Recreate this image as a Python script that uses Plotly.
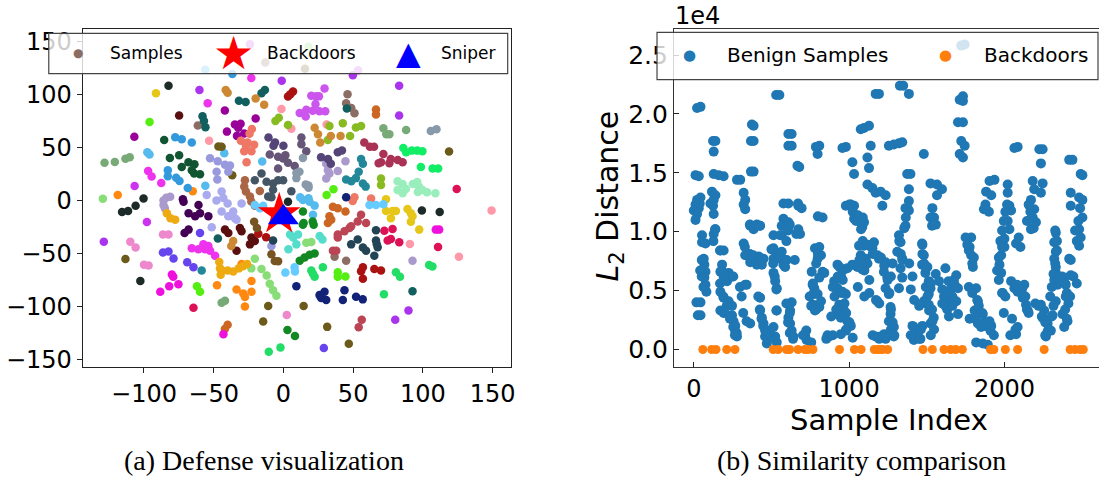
import plotly.graph_objects as go

# ---------------- (a) t-SNE embedding: one colour per cluster ----------------
cluster_colors = [
    "#8c6d64", "#1c2b28", "#e6c619", "#55ee11", "#5a1010", "#aa33ee", "#ee33ee", "#990099",
    "#77aa77", "#55bbee", "#cc33ee", "#ff8811", "#88dd77", "#115533", "#3399dd", "#115f5f",
    "#ff99aa", "#6b5a1a", "#9999dd", "#aaaaee", "#aa99cc", "#440055", "#ee7766", "#aa6644",
    "#445566", "#554477", "#665577", "#88bb22", "#aa1111", "#cc8833", "#cc55ee", "#cc6622",
    "#8899aa", "#aa3355", "#11ee66", "#228899", "#99eebb", "#dd1155", "#112277", "#ee11dd",
    "#6644ee", "#ee88cc", "#eeaa11", "#bb4455", "#224455", "#55ddcc", "#118822", "#22dd66",
    "#66ccff", "#775522",
]

tsne_clusters = [
    [(-61.4, 70.6), (46, 100), (45, 91.6), (48.7, 87), (51, 82), (36.7, -53), (45, -56.8), (-13, 130)],
    [(-82.4, 108), (-100.3, 1.8), (-115.7, -11), (-111.4, -10), (-106, -5), (-102.6, -75.9), (99.3, -9.6), (112.1, -11), (3.3, -1.2)],
    [(-91.4, 101), (73.6, -9.9), (78.3, -9.9), (80.7, -9.9), (89, -8), (91.4, -12), (92.6, -15), (91.4, -20), (77.1, -16.7), (97.4, -27.5), (73.6, 1)],
    [(-96, 73.8), (-62, -80.9), (-59.8, -86), (39, -67.6), (39, -72), (44.5, -71.6), (35.9, 10.5), (31, 5)],
    [(-74.8, 80), (-41.9, -27.5), (-39.5, -30.6), (-31.2, -26), (-30, -29), (-22.9, -35), (-24, -41.4), (-20.5, -38.3), (-33.6, -47.5)],
    [(-60.2, 104), (-128.8, -38.9), (83, 108), (83, 80), (49.8, 118), (80.2, -112.3), (89.7, -103.7), (-1.2, 112.7)],
    [(-54.3, 91.6), (-23, 115.4), (-97, 27.8), (-94.5, 22.5), (-87.6, 16.3), (-65.7, -45), (-61, -46), (-57.4, -41.4), (-56.2, -46), (-52.6, -47.5), (-53.8, -43), (-49, -52)],
    [(-106.9, 59.9), (-42, 84.6), (-34.8, 71.6), (-30.7, 72.2), (-32.4, 68.5), (-19.9, 77.2), (-40.5, 64.8), (-33.3, 60.8), (-28.1, 63)],
    [(-128.3, 35.5), (-120.9, 36.3), (-113.3, 39.2), (-110.2, 40.7), (71.7, 67.9), (73.8, 62.3), (76, 62.3), (88, 66.4), (-44.3, -96.3), (-41.9, -94.4)],
    [(-97.6, 45.4), (-96, 43.2), (-56, 13.8), (14, 0.3), (18.8, -1.2), (22.4, -4.9), (21.2, -13.6), (-42.4, 44.4), (-15.2, 36.7), (12, 3), (18, 2), (-56, 123)],
    [(-106.7, 13.5), (-97.9, -20.4)],
    [(-118.8, 5.2), (-65, 8.6), (-30, -60), (-22.9, -76), (-22.9, -86), (-33.6, -84), (-28.8, -87.6), (-27.6, -91), (-27.6, -100), (-47.6, -80)],
    [(-129.5, 1.5), (-20.5, -55), (-15.7, -64.5), (-12, -70.7), (-9.8, -78.4), (-7.4, -84.6), (-5, -89.8), (-23, -64), (16.4, -39.8), (20, -39.2), (18, 145)],
    [(-85.5, 57), (-81.4, 40), (-74.8, 42.6), (-72.9, 31.5), (-68.1, 36), (-63.8, 34), (-64, 25.3), (-59.8, 24.7), (-65.7, 28.4)],
    [(-77.6, 59.5), (-72.9, 57.6), (-65.7, 54.6), (-82.9, 28.4), (-82.9, 22.8), (-76.9, 21.3), (-74.5, 18.2), (-68.6, 11.7), (-36.6, 119)],
    [(-58, 79.3), (-57, 74.7), (-55.9, 69), (-31.9, 93.8), (-27.1, 92.6), (-15.7, 100.9), (-13.3, 104), (45.5, 86.5), (-47, -35.8), (92.6, -85.5)],
    [(-53.3, 56.2), (-1.4, 86), (5.7, 67.6), (90.7, -41), (125.9, -53), (149.3, -9.6), (31, 71.5)],
    [(-46.6, 50.9), (-44.3, 50.5), (-36.7, 23.7), (118.8, 46), (-113.3, -55.2), (14.5, -99.4), (31.4, -119.1), (46.9, -134.9), (-10.9, -99.4), (-14.5, -114), (15.5, 124)],
    [(-52.6, 39.8), (-47.1, 37), (-41.9, 33.7), (-38.3, 33), (-39.5, 26.9), (-47.9, 26.9), (-47.4, 19.8), (-8.6, -42.9)],
    [(-55, 5.2), (-44.3, 8.3), (-43.1, 2.2), (-51.4, -25.3), (-44.3, -10.5), (-39.5, -15), (-34.8, -16.7), (-33.6, -18.2), (-30, -3), (-36, -10.5), (-48, 0), (-40, -3)],
    [(-84, 2.5), (-81.2, 3.4), (-86, 0), (-86, -4.3), (-85, -7.4), (30.7, 34.6), (31.9, 28.4), (33, 25.3), (39, 27.8), (30.7, 20.7), (44.5, 37), (92.6, -56.8)],
    [(-72.1, 1), (-71.6, -1.2), (-60.9, -4.3), (-68, -12), (-63.3, -15), (-59.8, -12), (-53.8, -15), (-68, -27.5), (-70.9, -30.6)],
    [(-22.6, 67.3), (-24.3, 62.7), (-30.5, 56.2), (-26.9, 51.6), (-28.1, 46.3), (-22.9, 46.3), (-21, 52.5), (-25.7, 54.6), (-26.4, 36), (49.7, -0.6), (62.9, 1.8), (51, 3)],
    [(-27.6, 19.1), (-28.1, 13), (-26.9, 8.3), (-24, 3.7), (-23, -1), (-20.5, -5), (-16.9, 8.9)],
    [(-20.5, 19.1), (-15.7, 25.3), (-12.1, 17.6), (-7.4, 16), (-3.8, 19.1), (-0.2, 19.1), (-7.4, 10), (-10.9, 3.7), (5.7, 8.6), (-8.6, 3.1)],
    [(-10.7, 59.3), (-6, 54.6), (0, 51.5), (-7.1, 51.5), (27, 40.7), (32, 39), (34, 34.6), (39, 45.4), (42, 47)],
    [(-9.8, 43.2), (-3.8, 41.1), (-0.2, 39.5), (3.3, 35.5), (8.1, 32.4), (1.4, 42.5), (-3.8, 30), (12.9, 59.3), (12.9, 53), (16.4, 46.3)],
    [(-5.7, 74.7), (-3.3, 77.8), (3.3, 71), (42.6, 72.6), (52, 68.6), (55.7, 70), (47.8, 60.7), (31.9, 57), (33, 70), (70, 20.7), (70, 14.5)],
    [(3.3, 97.8), (6.9, 102.5), (5, 100), (-18, -31.5), (-12.4, -34.6), (57, -63), (55.7, -66.7), (57, -73.8), (65.2, -64.5), (70, -66)],
    [(-41.4, 104), (-40, 101.5), (-19.9, 96), (-13.8, 90), (22.4, 68.5), (24.8, 62.3), (26.4, 54.5), (34, 60.7), (41, 60.7), (-36, -38.3), (-37.4, -43)],
    [(29.5, 105.5), (20, 98.7), (23.6, 98), (25.5, 98), (23, 90.7), (11.7, 82.4), (16.4, 85.5), (21, 84.5), (25.8, 84), (30, 84), (16, 79), (-24, 147), (53.6, 122.5)],
    [(66.4, 85.6), (66.4, 81), (35.5, -5.9), (39, -7.4), (33, -15), (31.9, -21.3), (34.3, -18.2), (44.5, -10.5), (-40, -117), (-42, -121)],
    [(105.7, 65.4), (109.8, 67), (14, 40), (16, 15), (18, 14), (18, 12), (11.5, 27), (9.3, 21), (9.3, 25.9)],
    [(58, 54.6), (62, 50.6), (65, 50.6), (71.7, 43.8), (70, 36), (68.3, 35), (77, 39), (76, 35), (82, 38), (85.5, 36)],
    [(86, 49.4), (88, 45.4), (92, 46.9), (96, 46.9), (99.7, 46.3), (98.6, 31.5), (107, 30), (111, 30)],
    [(55.7, 39), (57, 34.6), (45, 19.8), (48.7, 18), (52, 21), (54, 27), (57, 16), (59, 13), (-58.6, -66)],
    [(81.9, 18), (85.5, 15.4), (87.9, 10.8), (81.9, 9.9), (85.5, 6.8), (96, 17.4), (97.3, 12.8), (99.7, 9.9), (103, 7.7), (109, 6.8), (92.8, 15.4), (96.4, 8)],
    [(124.3, 10.8), (72.4, -28.6), (74.8, -37.7), (78.3, -27), (83.1, -39.5), (77.1, -36.4), (110.9, -43.8), (-64.5, -101)],
    [(9.3, -80.9), (25.9, -89.2), (29.5, -86.1), (30.7, -93.8), (43.8, -84.6), (42.6, -93.8), (52.1, -90.7), (56.9, -93.2), (27.1, -92), (45, 3)],
    [(109.3, -27.5), (111.7, -27.5), (-88.3, -86), (-81.9, -80.9), (-75.3, -79), (-80, -69.8), (-79, -72), (-43, -126)],
    [(-86.4, -49), (-82.4, -48), (-78.8, -54.6), (-69, -58.3), (-64.5, -63), (-59.8, -30.6), (29, -138.9)],
    [(-109.8, -38.9), (-106, -44.4), (-100, -60.5), (-96.7, -61.4), (-86.4, -32), (-82.4, -32), (2.4, -108)],
    [(-81, -16.7), (-77.6, -18.2), (-83.6, -12), (-46, -58), (-45.5, -64), (-44, -66), (-36, -67), (-32, -64), (-29, -62), (-26, -60), (-45, -70), (-40, -66)],
    [(55.7, -13.6), (53.3, -19.8), (59.3, -21.3), (47.4, -25.9), (43.8, -29), (39, -32), (39, -35), (48.6, -24.4), (35.5, -47.5), (37.9, -47.5), (56.2, -112.3), (54, -119.4)],
    [(66.4, -28.1), (53.3, -36.7), (48.6, -41.4), (57, -44.4), (59.3, -47.5), (66.4, -37.7), (67.6, -44), (65.2, -52), (66.9, -41), (-7.4, -37.7)],
    [(26, -33.6), (28, -36.7), (9.3, -41.4), (10.5, -32), (3.6, -46), (4.8, -32), (7, -35)],
    [(14, -10.5), (14.5, -21.3), (14, -22.8), (21, -19.8), (21.7, -22.8), (11.7, -56.8), (15.2, -53.7), (18.8, -51.2), (22.4, -50), (2.9, -122), (8.3, -127.8)],
    [(20, -66), (22.4, -72), (28.3, -63), (21.2, -69), (80.7, -67.6), (83.6, -72), (104.5, -60.8), (106.9, -62.3), (72.1, -88.3), (-10.5, -142.6), (-2.1, -138.6)],
    [(-20.5, -4.3), (-16.9, -7.4), (-14.5, -5), (61.7, -4.3), (66.4, -4.3), (71.7, -3.7), (1.4, -68), (8, -63), (8.3, -67)],
    [(-21, -20), (-19, -26), (-8.6, -50.6), (-6.2, -57), (-3.8, -57.4)],
]

backdoor_xy = (-3, -13)
sniper_xy = (0, -16)

# ---------------- (b) L2 distance per sample (units of 1e4) ----------------
benign = [
    (21, 2.05), (43, 2.06), (11, 1.48), (32, 1.47), (21, 1.27), (11, 1.23), (32, 1.2), (0, 1.18), (21, 1.15), (11, 1.1),
    (43, 1.29), (38, 1.24), (53, 0.97), (75, 0.9), (53, 0.91), (64, 0.77), (68, 0.72), (75, 0.66), (68, 0.61), (75, 0.55),
    (81, 0.49), (17, 0.4), (26, 0.29), (43, 0.4), (43, 0.29), (124, 1.77), (139, 1.77), (128, 1.68), (128, 1.49), (160, 1.48),
    (192, 1.47), (117, 1.34), (139, 1.31), (128, 1.27), (107, 1.24), (124, 1.22), (128, 1.15), (139, 1.02), (128, 0.98), (171, 0.84),
    (192, 0.84), (182, 0.72), (171, 0.66), (192, 0.62), (214, 0.58), (246, 0.62), (224, 0.65), (171, 0.49), (192, 0.44), (224, 0.41),
    (246, 0.37), (171, 0.33), (192, 0.31), (246, 0.29), (256, 0.24), (267, 0.2), (267, 0.15), (278, 0.11), (278, 1.44), (299, 1.44),
    (321, 1.33), (331, 1.27), (321, 1.23), (331, 1.19), (363, 1.05), (427, 1.05), (385, 1.02), (406, 1.06), (321, 0.9), (331, 0.8),
    (385, 0.77), (417, 0.79), (449, 0.77), (438, 0.72), (406, 0.72), (363, 0.74), (331, 0.55), (363, 0.22), (427, 0.44), (427, 0.33),
    (438, 0.27), (449, 0.22), (459, 0.16), (459, 0.11), (470, 0.05), (491, 0.16), (374, 1.91), (385, 1.9), (385, 1.77), (368, 1.77),
    (385, 1.51), (368, 1.51), (530, 2.16), (551, 2.16), (513, 0.97), (556, 0.97), (513, 0.86), (534, 0.8), (513, 0.77), (556, 0.77),
    (577, 0.72), (588, 0.76), (513, 0.65), (524, 0.58), (534, 0.52), (534, 0.33), (513, 0.19), (524, 0.11), (534, 0.06), (630, 1.83),
    (609, 1.83), (630, 1.73), (609, 1.73), (667, 1.56), (679, 1.55), (577, 1.24), (609, 1.24), (577, 1.11), (566, 1.05), (566, 0.97),
    (609, 1.08), (566, 0.83), (598, 0.76), (588, 0.7), (630, 0.4), (620, 0.33), (609, 0.27), (620, 0.22), (630, 0.16), (641, 0.11),
    (673, 1.22), (694, 1.2), (673, 1.02), (684, 0.98), (716, 0.12), (726, 0.08), (759, 0.66), (765, 0.55), (769, 0.47), (769, 0.38),
    (780, 0.33), (780, 0.86),
    (786, 1.72), (808, 1.73), (797, 1.66), (829, 1.12), (808, 0.87), (819, 0.8), (797, 0.77), (829, 0.66), (840, 0.65), (808, 0.61),
    (776, 0.52), (797, 0.47), (819, 0.41), (808, 0.36), (872, 0.11), (861, 0.12), (979, 1.72), (957, 1.71), (1021, 1.59), (1032, 1.49),
    (979, 1.22), (1011, 1.23), (1032, 1.22), (1032, 1.11), (1064, 1.09), (1085, 1.04), (1096, 1.08), (1064, 0.88), (1096, 0.88), (1128, 0.88),
    (1075, 0.8), (1107, 0.77), (925, 0.72), (947, 0.63), (968, 0.68), (989, 0.69), (1021, 0.72), (904, 0.58), (925, 0.52), (957, 0.49),
    (979, 0.47), (936, 0.38), (968, 0.33), (925, 0.3), (947, 0.27), (989, 0.24), (1011, 0.2), (979, 0.16), (947, 0.13), (1053, 0.7),
    (1085, 0.68), (1107, 0.72), (1118, 0.73), (1096, 1.88), (1128, 1.9), (1075, 1.87), (1139, 1.73), (1118, 1.63), (1128, 1.54), (1118, 1.4),
    (1150, 1.37), (1171, 1.33), (1203, 1.34), (1235, 1.31), (1214, 1.22), (1171, 2.17), (1192, 2.17), (1327, 2.24), (1348, 2.24), (1385, 2.17),
    (1256, 1.73), (1288, 1.74), (1321, 1.75), (1342, 1.76), (1374, 1.49), (1395, 1.49), (1385, 1.36), (1385, 1.26), (1363, 1.2), (1385, 1.18),
    (1321, 0.97), (1331, 0.91), (1363, 1.05), (1160, 0.91), (1150, 0.86), (1182, 0.8), (1192, 0.77), (1235, 0.74), (1224, 0.66), (1246, 0.61),
    (1235, 0.52), (1256, 0.47), (1267, 0.36), (1267, 0.3), (1256, 0.24), (1288, 0.19), (1182, 0.41), (1171, 0.11), (1203, 0.11), (1235, 0.09),
    (1288, 0.11), (1310, 0.83), (1342, 0.77), (1331, 0.69), (1342, 0.61), (1321, 0.52), (1481, 1.66), (1470, 0.9), (1481, 0.8), (1470, 0.72),
    (1491, 0.65), (1513, 0.58), (1524, 0.52), (1513, 0.47), (1481, 0.41), (1513, 0.38), (1534, 0.34), (1545, 0.27), (1524, 0.22), (1417, 0.19),
    (1427, 0.13), (1417, 0.08), (1459, 0.09), (1524, 1.41), (1566, 1.4), (1598, 1.36), (1566, 1.31), (1524, 1.12), (1534, 1.05), (1620, 0.69),
    (1641, 0.58), (1630, 0.49), (1652, 0.44), (1620, 0.37),
    (1733, 2.15), (1733, 2.11), (1712, 2.12), (1733, 1.93), (1701, 1.93), (1722, 1.77), (1744, 1.73), (1733, 1.63), (1712, 1.66), (1690, 0.63),
    (1701, 0.52), (1690, 0.41), (1701, 0.3), (1679, 0.55), (1786, 0.95), (1776, 0.87), (1786, 0.8), (1797, 0.7), (1818, 0.52), (1829, 0.41),
    (1808, 0.33), (1861, 0.3), (1776, 0.26), (1829, 0.22), (1872, 0.2), (1915, 0.2), (1850, 0.19), (1904, 0.24), (1818, 0.06), (1861, 0.05),
    (1893, 0.04), (1936, 1.44), (1904, 1.43), (1882, 1.34), (1915, 1.31), (1882, 1.19), (2021, 1.4), (2021, 1.33), (2032, 1.22), (2043, 1.18),
    (2021, 1.09), (2032, 1.02), (2000, 0.94), (1989, 0.88), (1979, 0.8), (1968, 0.72), (1979, 0.65), (2000, 0.87), (2075, 0.9), (1989, 0.48),
    (2085, 1.72), (2064, 1.71), (2043, 0.58), (2064, 0.52), (2085, 0.49), (2128, 0.55), (2118, 0.44), (2139, 0.38), (2150, 0.33), (2085, 0.19),
    (2075, 0.13), (2182, 1.43), (2192, 1.36), (2171, 1.27), (2192, 1.19), (2182, 1.12), (2203, 1.08), (2171, 1.02), (2246, 1.41), (2235, 1.33),
    (2225, 1.7), (2246, 1.7), (2235, 1.58), (2331, 0.99), (2321, 0.91), (2331, 0.83), (2321, 0.77), (2331, 0.7), (2331, 0.65), (2321, 0.59),
    (2342, 0.55), (2235, 0.38), (2256, 0.33), (2246, 0.27), (2278, 0.22), (2278, 0.15), (2267, 0.11), (2299, 0.16), (2310, 0.29), (2331, 0.41),
    (2385, 0.61), (2395, 0.55), (2427, 0.63), (2395, 0.45), (2374, 0.3), (2406, 0.24), (2385, 0.19), (2417, 0.77), (2417, 1.61), (2438, 1.61),
    (2491, 1.49), (2502, 1.48), (2427, 1.33), (2481, 1.29), (2502, 1.27), (2427, 1.22), (2502, 1.12), (2481, 1.02), (2491, 0.95), (2481, 0.88),
    (2427, 0.76), (1744, 2.59), (1722, 2.58),
    (51, 0.76), (51, 0.62), (62, 0.53), (41, 0.67), (126, 0.92), (137, 1.02), (169, 0.84), (179, 0.67), (169, 0.56), (190, 0.45),
    (212, 0.37), (201, 0.31), (233, 0.26), (254, 0.19), (276, 0.14), (265, 0.12), (254, 0.62), (297, 0.53), (308, 0.45), (318, 0.31),
    (340, 0.24), (329, 0.87), (361, 0.81), (361, 1.06), (393, 1.05), (425, 1.05), (382, 0.8), (425, 0.78), (436, 0.76), (340, 0.55),
    (415, 0.45), (425, 0.34), (436, 0.26), (447, 0.2), (468, 0.14), (479, 0.09), (500, 0.85), (511, 0.73), (521, 0.62), (532, 0.51),
    (532, 0.33), (596, 0.92), (607, 1.01), (618, 1.06), (596, 0.39), (618, 0.31), (607, 0.23), (618, 0.14), (639, 0.09), (650, 0.76),
    (660, 0.98), (671, 1.24), (703, 0.12), (724, 0.16), (756, 0.06), (799, 1.13), (799, 0.81), (788, 0.73), (767, 0.56), (746, 0.45),
    (756, 0.37), (788, 0.34), (853, 0.09), (895, 0.12), (895, 0.53), (906, 0.45), (917, 0.34), (885, 0.28), (938, 0.7), (959, 0.59),
    (949, 0.48), (970, 0.39), (927, 0.62), (981, 0.31), (1002, 0.23), (981, 0.17), (1023, 0.1), (1002, 1.23), (1023, 1.17), (1045, 1.09),
    (1077, 1.02), (1088, 1.12), (1056, 1.14), (1088, 0.92), (1120, 0.89), (1152, 0.81), (1066, 0.76), (1098, 0.67), (1130, 0.59), (1130, 0.48),
    (1098, 0.45), (1056, 0.53), (1173, 0.42), (1194, 0.39), (1152, 0.12), (1194, 0.09), (1226, 0.13), (1205, 0.78), (1226, 0.71), (1248, 0.59),
    (1259, 0.48), (1269, 0.62), (1280, 0.73), (1269, 0.34), (1280, 0.23), (1269, 0.17), (1291, 0.12), (1323, 0.92), (1333, 0.81), (1355, 1.03),
    (1365, 1.12), (1376, 1.2), (1344, 0.76), (1387, 0.73), (1408, 0.62), (1397, 0.51), (1419, 0.42), (1408, 0.2), (1429, 0.14), (1451, 0.09),
    (1397, 0.12), (1472, 0.89), (1472, 0.81), (1483, 0.73), (1504, 0.7), (1494, 0.53), (1504, 0.45), (1494, 0.39), (1515, 0.33), (1451, 0.37),
    (1472, 0.2), (1462, 0.17), (1526, 0.56), (1558, 0.64), (1579, 0.58), (1600, 0.51), (1611, 0.45), (1622, 0.39), (1632, 0.34), (1600, 0.39),
    (1643, 0.28), (1665, 0.45), (1654, 0.51), (1675, 0.59), (1686, 0.53), (1665, 0.37), (1536, 0.24), (1547, 0.17), (1526, 0.12), (1547, 1.12),
    (1536, 1.2), (1558, 1.06), (1750, 0.95), (1771, 0.84), (1793, 0.73), (1761, 0.89), (1803, 0.78), (1771, 0.53), (1793, 0.48), (1825, 0.42),
    (1835, 0.37), (1857, 0.31), (1814, 0.26), (1868, 0.23), (1900, 0.2), (1910, 0.16), (1932, 0.12), (1878, 1.23), (1900, 1.17), (1868, 1.19),
    (1953, 0.67), (1964, 0.78), (1974, 0.92), (1985, 1.01), (1996, 1.09), (2006, 1.17), (2017, 1.23), (1985, 0.87), (1964, 0.59), (1985, 0.48),
    (2006, 0.45), (1996, 0.31), (2049, 0.26), (2071, 0.17), (2038, 0.12), (2092, 0.95), (2103, 0.87), (2081, 0.55), (2113, 0.51), (2135, 0.45),
    (2145, 0.34), (2156, 0.31), (2145, 1.09), (2167, 1.17), (2156, 1.23), (2188, 1.03), (2177, 1.12), (2199, 0.39), (2220, 0.37), (2241, 0.28),
    (2263, 0.23), (2284, 0.17), (2263, 0.12), (2305, 0.53), (2295, 0.45), (2316, 0.37), (2305, 0.28), (2327, 1.01), (2338, 0.92), (2338, 0.84),
    (2327, 0.73), (2316, 0.64), (2348, 0.59), (2370, 0.62), (2391, 0.56), (2402, 0.48), (2412, 0.39), (2391, 0.34), (2402, 0.26), (2455, 1.01),
    (2466, 0.92), (2476, 1.09), (2487, 1.2), (2444, 0.62), (2466, 0.56), (2423, 0.45),
]

backdoor_index = [58, 115, 143, 212, 265, 511, 543, 596, 617, 671, 714, 735, 767, 938, 1034, 1077,
                  1162, 1184, 1200, 1216, 1248, 1476, 1536, 1611, 1654, 1686, 1729, 1910, 1932, 2006,
                  2085, 2256, 2423, 2455, 2487, 2508]
backdoor_l2 = [0.0] * len(backdoor_index)

x_ticks_a = [-100, -50, 0, 50, 100, 150]
y_ticks_a = [-150, -100, -50, 0, 50, 100, 150]
x_ticks_b = [0, 1000, 2000]
y_ticks_b = [0.0, 0.5, 1.0, 1.5, 2.0, 2.5]

# ---------------- figure ----------------
W, H = 1104, 486
FONT = "DejaVu Sans"


def fx(p):
    return p / W


def fy(p):
    return 1 - p / H


fig = go.Figure()

pts_x, pts_y, pts_c = [], [], []
for color, pts in zip(cluster_colors, tsne_clusters):
    for x, y in pts:
        pts_x.append(x)
        pts_y.append(y)
        pts_c.append(color)

fig.add_trace(go.Scatter(x=pts_x, y=pts_y, mode="markers", xaxis="x", yaxis="y",
                         marker=dict(size=8.5, color=pts_c, line=dict(width=0)),
                         showlegend=False, hoverinfo="skip"))
fig.add_trace(go.Scatter(x=[backdoor_xy[0]], y=[backdoor_xy[1]], mode="markers", xaxis="x", yaxis="y",
                         marker=dict(symbol="star", size=32, color="red", line=dict(width=0)),
                         showlegend=False))
fig.add_trace(go.Scatter(x=[sniper_xy[0]], y=[sniper_xy[1]], mode="markers", xaxis="x", yaxis="y",
                         marker=dict(symbol="triangle-up", size=27, color="blue", line=dict(width=0)),
                         showlegend=False))

b_idx = [p[0] for p in benign]
b_l2 = [p[1] for p in benign]
fig.add_trace(go.Scatter(x=b_idx, y=b_l2, mode="markers", xaxis="x2", yaxis="y2",
                         marker=dict(size=10, color="#1f77b4", line=dict(width=0)),
                         showlegend=False))
fig.add_trace(go.Scatter(x=backdoor_index, y=backdoor_l2, mode="markers", xaxis="x2", yaxis="y2",
                         marker=dict(size=9, color="#ff7f0e", line=dict(width=0)),
                         showlegend=False))

ydom = [fy(372), fy(28)]
axis_common = dict(showgrid=False, zeroline=False, showline=True, linecolor="#222", linewidth=1,
                   tickcolor="#222", tickwidth=1, ticklen=5)

fig.update_layout(
    width=W, height=H, margin=dict(l=0, r=0, t=0, b=0),
    paper_bgcolor="white", plot_bgcolor="white",
    font=dict(family=FONT, color="black"),
    xaxis=dict(domain=[fx(83), fx(513)], range=[-144, 163], anchor="y", mirror=True, ticks="outside",
               tickvals=x_ticks_a, tickfont=dict(family=FONT, size=24, color="black"), **axis_common),
    yaxis=dict(domain=ydom, range=[-157, 161], anchor="x", mirror=True, ticks="outside",
               tickvals=y_ticks_a, tickfont=dict(family=FONT, size=24, color="black"), **axis_common),
    xaxis2=dict(domain=[fx(677), 1.0], range=[-128, 2609], anchor="y2", mirror=True, ticks="inside",
                tickvals=x_ticks_b, tickfont=dict(family=FONT, size=24, color="black"),
                **{**axis_common, "linecolor": "#333"}),
    yaxis2=dict(domain=ydom, range=[-0.15, 2.717], anchor="x2", ticks="inside",
                tickvals=y_ticks_b, tickformat=".1f", tickfont=dict(family=FONT, size=25, color="black"),
                **{**axis_common, "linecolor": "#333"}),
)

shapes = [
    dict(type="rect", xref="paper", yref="paper", x0=fx(49), x1=fx(510), y0=fy(73), y1=fy(32),
         fillcolor="rgba(255,255,255,0.8)", line=dict(color="#444", width=1.2), layer="above"),
    dict(type="rect", xref="paper", yref="paper", x0=fx(660), x1=fx(1103), y0=fy(79), y1=fy(31),
         fillcolor="rgba(255,255,255,0.8)", line=dict(color="#444", width=1.2), layer="above"),
]
fig.update_layout(shapes=shapes)


def ann(text, x, y, size, color="black", xanchor="center", family=FONT, angle=0):
    return dict(text=text, x=fx(x), y=fy(y), xref="paper", yref="paper", showarrow=False,
                xanchor=xanchor, yanchor="middle", textangle=angle,
                font=dict(family=family, size=size, color=color))


annotations = [
    # legend of panel (a)
    ann("●", 78, 52, 12, cluster_colors[0]),
    ann("Samples", 108, 52, 17, xanchor="left"),
    ann("★", 235, 52, 46, "red"),
    ann("Backdoors", 266, 52, 17, xanchor="left"),
    ann("▲", 410, 52, 32, "blue"),
    ann("Sniper", 441, 52, 17, xanchor="left"),
    # legend of panel (b)
    ann("●", 693, 54, 15, "#1f77b4"),
    ann("Benign Samples", 728, 54, 20, xanchor="left"),
    ann("●", 950, 54, 15, "#ff7f0e"),
    ann("Backdoors", 986, 54, 20, xanchor="left"),
    # axis titles and offset label of panel (b)
    ann("1e4", 676, 14, 24, xanchor="left"),
    ann("<i>L</i><sub>2</sub> Distance", 612, 198, 30, angle=-90),
    ann("Sample Index", 893, 426, 29),
    # panel captions
    ann("(a) Defense visualization", 265, 467, 28, family="Liberation Serif"),
    ann("(b) Similarity comparison", 865, 467, 28, family="Liberation Serif"),
]
fig.update_layout(annotations=annotations)

fig.write_html("out.html")
